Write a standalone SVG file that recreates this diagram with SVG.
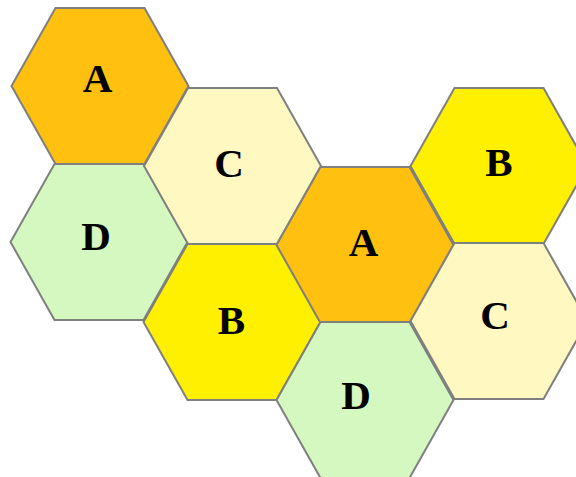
<svg xmlns="http://www.w3.org/2000/svg" width="576" height="477" viewBox="0 0 576 477">
<style>
.hex{stroke:#7f7f7f;stroke-width:2;stroke-linejoin:miter}
.a{fill:#FFC010}.b{fill:#FFF000}.c{fill:#FFF8C0}.d{fill:#D4F8C0}
.t{font-family:"Liberation Serif","Times New Roman",serif;font-weight:bold;font-size:41px;fill:#000;text-anchor:middle}
</style>
<defs>
<polygon id="h" points="-44.5,-78 44.5,-78 88.5,0 44.5,78 -44.5,78 -88.5,0"/>
</defs>
<g id="connectors"/>
<g id="hexA1"><use href="#h" class="hex a" x="100" y="86"/><text class="t" x="97.5" y="92">A</text></g>
<g id="hexD1"><use href="#h" class="hex d" x="99" y="242"/><text class="t" x="96" y="250">D</text></g>
<g id="hexC1"><use href="#h" class="hex c" x="232.5" y="166"/><text class="t" x="229" y="177">C</text></g>
<g id="hexB1"><use href="#h" class="hex b" x="232" y="322"/><text class="t" x="231.5" y="334">B</text></g>
<g id="hexA2"><use href="#h" class="hex a" x="365" y="245"/><text class="t" x="363.5" y="256">A</text></g>
<g id="hexD2"><use href="#h" class="hex d" x="365" y="400"/><text class="t" x="356" y="409">D</text></g>
<g id="hexB2"><use href="#h" class="hex b" x="499" y="166"/><text class="t" x="499" y="175.5">B</text></g>
<g id="hexC2"><use href="#h" class="hex c" x="499" y="321"/><text class="t" x="495" y="329">C</text></g>
</svg>
